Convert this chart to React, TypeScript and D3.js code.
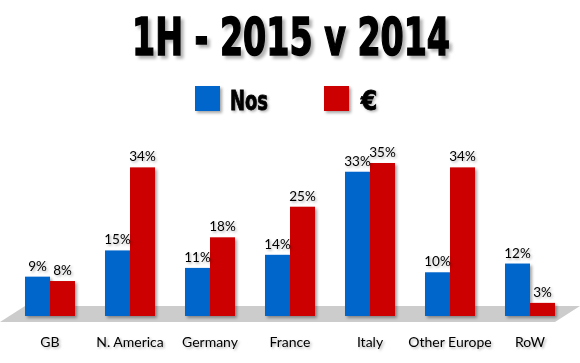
import React from 'react';
import * as d3 from 'd3';

const categories = ['GB', 'N. America', 'Germany', 'France', 'Italy', 'Other Europe', 'RoW'];
const nosValues = [9, 15, 11, 14, 33, 10, 12];
const euroValues = [8, 34, 18, 25, 35, 34, 3];
const seriesNames = ['Nos', '€'];

const WIDTH = 580;
const HEIGHT = 363;
const BLUE = '#0066CC';
const RED = '#CC0000';

const App: React.FC = () => {
  const baseY = 316;
  const x = d3.scaleBand<string>().domain(categories).range([10, 570]).paddingInner(0.375).paddingOuter(0.1875);
  const sub = d3.scaleBand<string>().domain(['nos', 'eur']).range([0, x.bandwidth()]);
  const y = d3.scaleLinear().domain([0, 35]).range([baseY, baseY - 153]);

  const series = [
    { key: 'nos', values: nosValues, color: BLUE },
    { key: 'eur', values: euroValues, color: RED },
  ];

  const labelFont = 'Lato, "Open Sans", sans-serif';
  const heavyFont = '"DejaVu Sans Condensed", "DejaVu Sans", sans-serif';

  return (
    <svg width={WIDTH} height={HEIGHT} style={{ position: 'absolute', left: 0, top: 0, background: '#fff' }}>
      <defs>
        <filter id="barShadow" x="-20%" y="-20%" width="150%" height="150%">
          <feDropShadow dx="2" dy="2" stdDeviation="1.5" floodColor="#000" floodOpacity="0.35" />
        </filter>
        <filter id="textShadow" x="-20%" y="-20%" width="150%" height="150%">
          <feDropShadow dx="1.5" dy="1.5" stdDeviation="1" floodColor="#000" floodOpacity="0.3" />
        </filter>
        <filter id="titleShadow" x="-10%" y="-20%" width="130%" height="150%">
          <feDropShadow dx="3" dy="3" stdDeviation="1.5" floodColor="#000" floodOpacity="0.3" />
        </filter>
      </defs>

      {/* Title */}
      <text
        x={132}
        y={55}
        fontFamily={heavyFont}
        fontWeight="bold"
        fontSize={52}
        textLength={318}
        lengthAdjust="spacingAndGlyphs"
        fill="#000"
        stroke="#000"
        strokeWidth={1.5}
        filter="url(#titleShadow)"
      >
        1H - 2015 v 2014
      </text>

      {/* Legend */}
      <g>
        <rect x={195} y={86} width={25} height={25} fill={BLUE} filter="url(#barShadow)" />
        <text x={230} y={110} fontFamily={heavyFont} fontWeight="bold" fontSize={26} textLength={38}
          lengthAdjust="spacingAndGlyphs" stroke="#000" strokeWidth={0.8} filter="url(#textShadow)">
          {seriesNames[0]}
        </text>
        <rect x={324} y={86} width={25} height={25} fill={RED} filter="url(#barShadow)" />
        <text x={361} y={110} fontFamily={heavyFont} fontWeight="bold" fontSize={26} stroke="#000"
          strokeWidth={0.8} filter="url(#textShadow)">
          {seriesNames[1]}
        </text>
      </g>

      {/* Floor */}
      <polygon points="0,322 25,306 580,306 555,322" fill="#cccccc" />

      {/* Bars */}
      {categories.map((c, i) => (
        <g key={c} transform={`translate(${x(c)},0)`} filter="url(#barShadow)">
          {series.map((s) => (
            <rect
              key={s.key}
              x={sub(s.key)}
              y={y(s.values[i])}
              width={sub.bandwidth()}
              height={baseY - y(s.values[i])}
              fill={s.color}
            />
          ))}
        </g>
      ))}

      {/* Value labels */}
      {categories.map((c, i) => (
        <g key={c + '-lbl'} transform={`translate(${x(c)},0)`}>
          {series.map((s) => (
            <text
              key={s.key}
              x={(sub(s.key) || 0) + sub.bandwidth() / 2}
              y={y(s.values[i]) - 6}
              textAnchor="middle"
              fontFamily={labelFont}
              fontSize={13.5}
              fill="#000"
              filter="url(#textShadow)"
            >
              {s.values[i]}%
            </text>
          ))}
        </g>
      ))}

      {/* Category labels */}
      {categories.map((c) => (
        <text
          key={c + '-cat'}
          x={(x(c) || 0) + x.bandwidth() / 2}
          y={347}
          textAnchor="middle"
          fontFamily={labelFont}
          fontSize={14}
          fill="#000"
          filter="url(#textShadow)"
        >
          {c}
        </text>
      ))}
    </svg>
  );
};

export default App;
